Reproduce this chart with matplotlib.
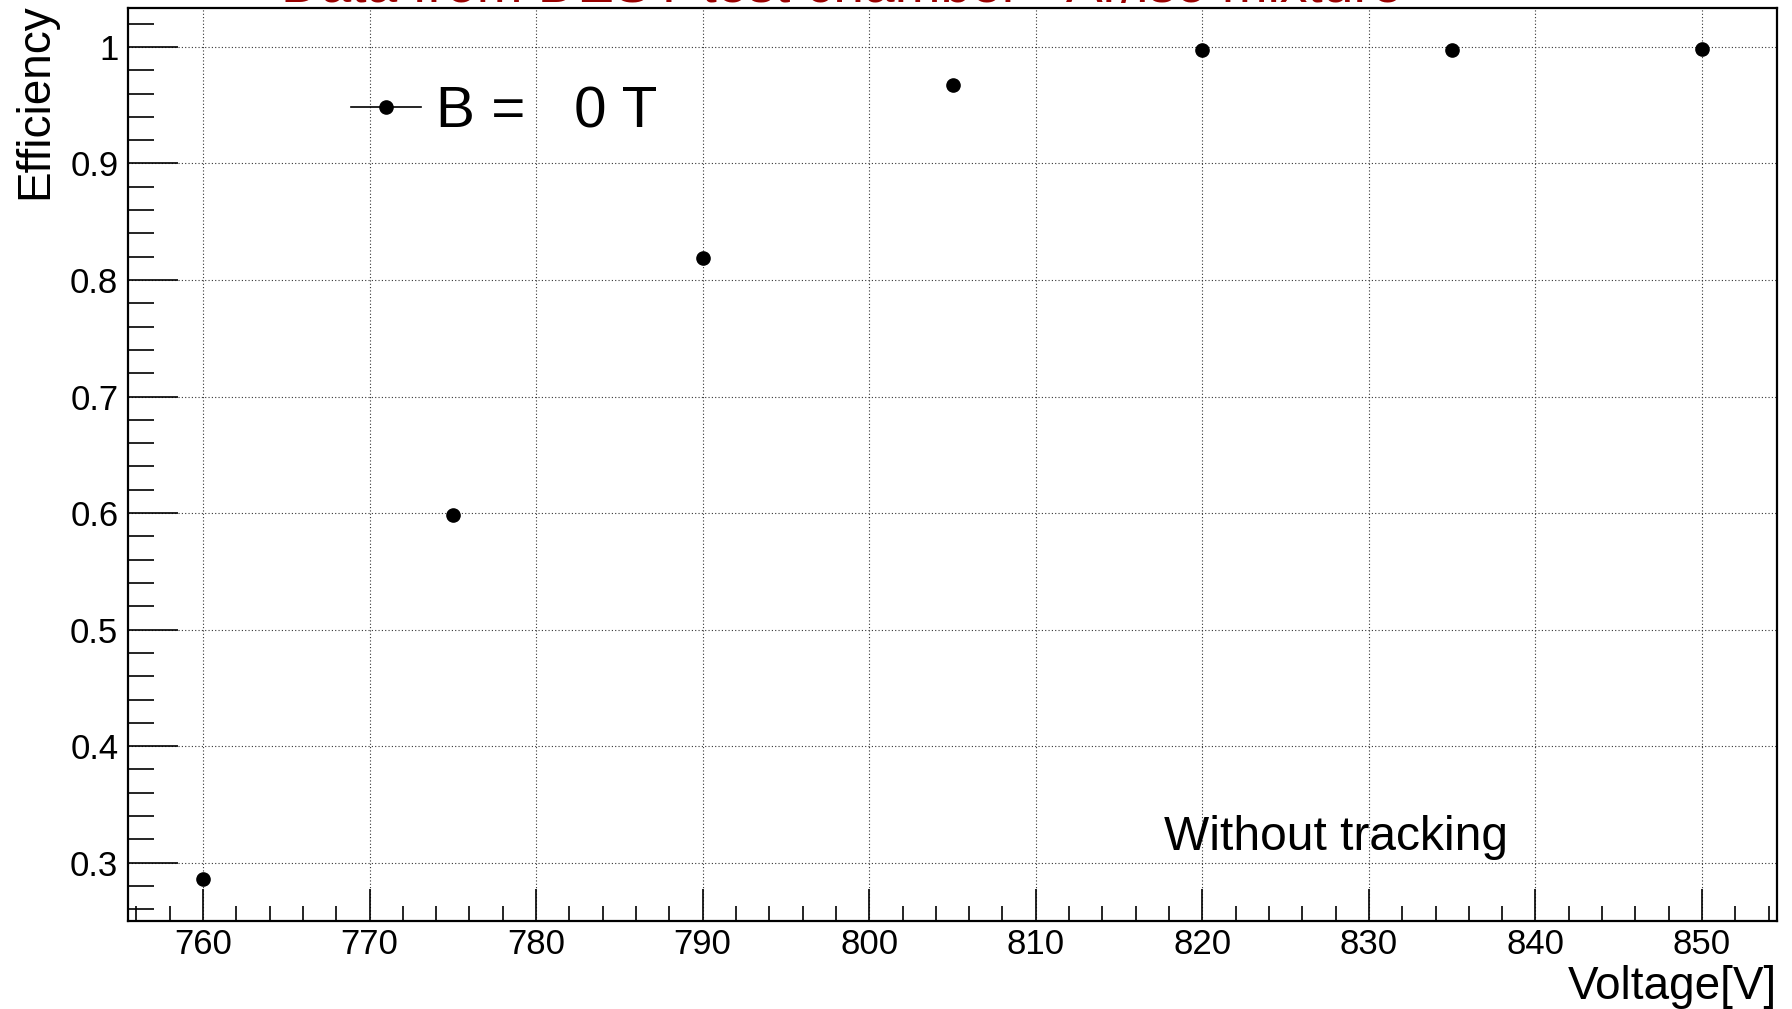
import matplotlib
matplotlib.use('Agg')
import matplotlib.pyplot as plt
from matplotlib.lines import Line2D
from matplotlib.ticker import MultipleLocator, FuncFormatter

## data
voltage = [760, 775, 790, 805, 820, 835, 850]
efficiency = [0.286, 0.598, 0.819, 0.967, 0.997, 0.997, 0.998]

title_text = 'Data from DESY test chamber - Ar/iso mixture'
legend_text = 'B =   0 T'
note_text = 'Without tracking'

plt.rcParams['font.family'] = ['Liberation Sans', 'DejaVu Sans']

fig = plt.figure(figsize=(17.92, 10.09), dpi=100)
ax = fig.add_axes([128 / 1792, 1 - 921 / 1009, 1649 / 1792, 913 / 1009])

ax.plot(voltage, efficiency, 'o', color='black', markersize=9.5, linestyle='none')

ax.set_xlim(755.5, 854.5)
ax.set_ylim(0.25, 1.0334)

## ticks, root style (y ticks longer than x ticks)
ax.xaxis.set_major_locator(MultipleLocator(10))
ax.xaxis.set_minor_locator(MultipleLocator(2))
ax.yaxis.set_major_locator(MultipleLocator(0.1))
ax.yaxis.set_minor_locator(MultipleLocator(0.02))
ax.tick_params(which='both', direction='in', top=False, right=False, width=1.2, color='black')
ax.tick_params(which='major', labelsize=25)
ax.tick_params(axis='y', which='major', length=36, pad=7)
ax.tick_params(axis='y', which='minor', length=19)
ax.tick_params(axis='x', which='major', length=23, pad=5)
ax.tick_params(axis='x', which='minor', length=11)
ax.yaxis.set_major_formatter(FuncFormatter(lambda v, p: '%g' % round(v, 2)))

## grids
ax.grid(True, which='major', color='#333333', linestyle=(0, (1, 2)), linewidth=0.8)
ax.set_axisbelow(True)
for s in ax.spines.values():
	s.set_linewidth(1.6)

## labels
ax.set_xlabel('Voltage[V]', fontsize=33, loc='right')
ax.xaxis.set_label_coords(1.0, -0.048)
ax.set_ylabel('Efficiency', fontsize=33, loc='top')
ax.yaxis.set_label_coords(-0.043, 1.005)

ax.text(0.628, 0.092, note_text, transform=ax.transAxes, fontsize=34.5, ha='left', va='center')

# title sits mostly above the canvas, only its lower edge shows
fig.text(842 / 1792, 1 - 2 / 1009, title_text, color='#990000', fontsize=39.6, ha='center', va='baseline')

handle = Line2D([], [], color='black', marker='o', markersize=9.5, linewidth=1.2)
ax.legend([handle], [legend_text], loc='center left', bbox_to_anchor=(0.1352, 0.886),
	frameon=False, fontsize=42, handlelength=1.2, handletextpad=0.25, borderpad=0, borderaxespad=0)

fig.savefig('out.png', dpi=100)
